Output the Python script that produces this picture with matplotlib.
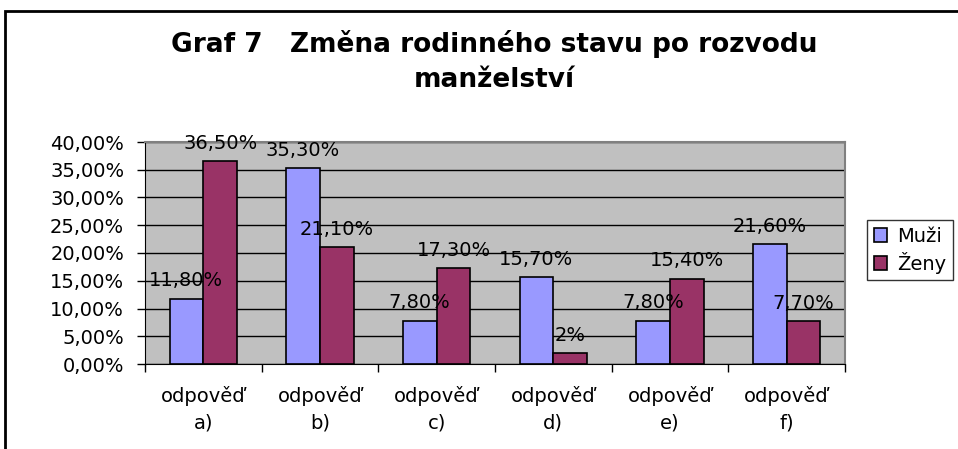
import matplotlib.pyplot as plt
import matplotlib.patches as mpatches
import numpy as np

categories = ["odpověď\na)", "odpověď\nb)", "odpověď\nc)", "odpověď\nd)", "odpověď\ne)", "odpověď\nf)"]
muzi = [11.8, 35.3, 7.8, 15.7, 7.8, 21.6]
zeny = [36.5, 21.1, 17.3, 2.0, 15.4, 7.7]
series_names = ["Muži", "Ženy"]
y_ticks = [0, 5, 10, 15, 20, 25, 30, 35, 40]


def fmt(v):
    if float(v).is_integer():
        return f"{int(v)}%"
    return f"{v:.2f}%".replace(".", ",")


plt.rcParams["font.family"] = ["DejaVu Sans"]
FS = 14

fig = plt.figure(figsize=(9.58, 4.49), dpi=100)
ax = fig.add_axes([145 / 958, 1 - 364 / 449, 700 / 958, 222 / 449])
ax.set_facecolor("#C0C0C0")

x = np.arange(len(categories))
w = 0.29
b1 = ax.bar(x - w / 2, muzi, w, color="#9999FF", edgecolor="black", lw=1.2,
            label=series_names[0], zorder=3)
b2 = ax.bar(x + w / 2, zeny, w, color="#993366", edgecolor="black", lw=1.2,
            label=series_names[1], zorder=3)

for bars, vals in ((b1, muzi), (b2, zeny)):
    for rect, v in zip(bars, vals):
        ax.annotate(fmt(v), (rect.get_x() + rect.get_width() / 2, v),
                    xytext=(0, 6), textcoords="offset points",
                    ha="center", va="bottom", fontsize=FS, zorder=4)

ax.set_xlim(-0.5, len(categories) - 0.5)
ax.set_ylim(0, 40)
ax.set_yticks(y_ticks)
ax.set_yticklabels([f"{t:.2f}%".replace(".", ",") for t in y_ticks], fontsize=FS)
ax.yaxis.grid(True, color="black", lw=1, zorder=1)

# category boundaries as major ticks, labels centered between them
ax.set_xticks(np.arange(len(categories) + 1) - 0.5)
ax.set_xticklabels([])
ax.set_xticks(x, minor=True)
ax.set_xticklabels(categories, minor=True, fontsize=FS, linespacing=1.5)
ax.tick_params(axis="x", which="minor", length=0, pad=16)
ax.tick_params(axis="x", which="major", length=6, width=1, color="black")
ax.tick_params(axis="y", length=6, width=1, pad=9)

for side in ("top", "right"):
    ax.spines[side].set_color("#808080")
    ax.spines[side].set_linewidth(1.5)
ax.spines["left"].set_color("black")
ax.spines["bottom"].set_color("black")

fig.text(494 / 958, 1 - 44 / 449, "Graf 7   Změna rodinného stavu po rozvodu",
         ha="center", va="center", fontsize=19, fontweight="bold")
fig.text(494 / 958, 1 - 80 / 449, "manželství",
         ha="center", va="center", fontsize=19, fontweight="bold")

leg = fig.legend(handles=[b1, b2], loc="upper left",
                 bbox_to_anchor=(867 / 958, 1 - 220 / 449), fontsize=FS,
                 frameon=True, fancybox=False, edgecolor="black",
                 handlelength=0.7, handleheight=0.7, handletextpad=0.5,
                 borderpad=0.35, labelspacing=0.3, borderaxespad=0)
leg.get_frame().set_linewidth(1)

# outer chart border (runs off the right and bottom edges)
fig.patches.append(mpatches.Rectangle((5 / 958, -0.1), 1.1, 1.1 - 11 / 449,
                                      transform=fig.transFigure, fill=False,
                                      edgecolor="black", lw=2))

fig.savefig("out.png", dpi=100)
